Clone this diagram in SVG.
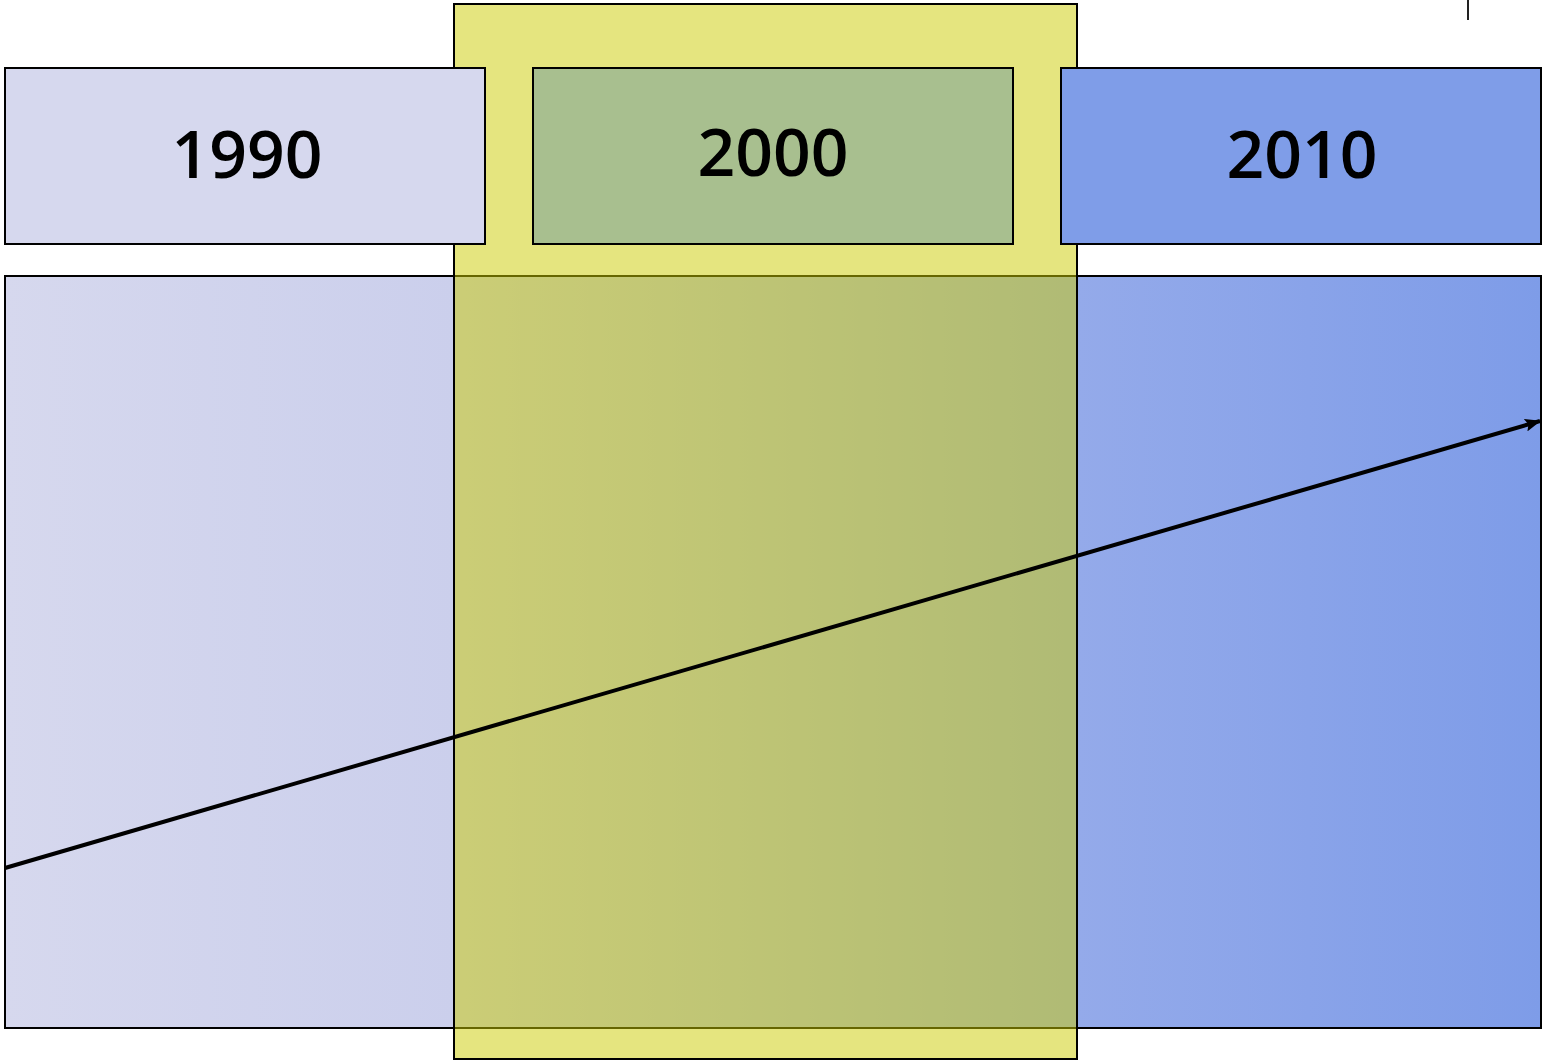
<svg xmlns="http://www.w3.org/2000/svg" width="1543" height="1063" viewBox="0 0 1543 1063">
<style>
.box{stroke:#000;stroke-width:2}
.lbl{font-family:"Open Sans","Noto Sans",sans-serif;font-size:66px;font-weight:600;text-anchor:middle;fill:#000}
</style>
<defs>
<linearGradient id="bg" x1="5" y1="0" x2="1541" y2="0" gradientUnits="userSpaceOnUse">
<stop offset="0" stop-color="#d6d8ee"/>
<stop offset="0.292" stop-color="#cbcfec"/>
<stop offset="0.698" stop-color="#94aaea"/>
<stop offset="1" stop-color="#7e9ce8"/>
</linearGradient>
<marker id="ah" markerWidth="16" markerHeight="13" refX="15" refY="6.5" orient="auto" markerUnits="userSpaceOnUse" viewBox="0 0 16 13">
<path d="M0,0 L16,6.5 L0,13 L3,6.5 z" fill="#000"/>
</marker>
</defs>
<g id="background">
<rect class="box" x="5" y="276" width="1536" height="752" fill="url(#bg)"/>
</g>
<g id="highlight">
<rect x="454" y="4" width="623" height="1055" fill="#cccc00" fill-opacity="0.5" stroke="#000" stroke-width="2"/>
</g>
<g id="node-1990">
<rect class="box" x="5" y="68" width="480" height="176" fill="#d6d8ee"/>
<text class="lbl" x="247" y="178">1990</text>
</g>
<g id="node-2000">
<rect class="box" x="533" y="68" width="480" height="176" fill="#a8bf8f"/>
<text class="lbl" x="773" y="176">2000</text>
</g>
<g id="node-2010">
<rect class="box" x="1061" y="68" width="480" height="176" fill="#7f9de8"/>
<text class="lbl" x="1302" y="178">2010</text>
</g>
<g id="connectors">
<line x1="5" y1="868" x2="1540" y2="421" stroke="#000" stroke-width="4" marker-end="url(#ah)"/>
<line x1="1468" y1="0" x2="1468" y2="20" stroke="#222" stroke-width="2"/>
</g>
</svg>
